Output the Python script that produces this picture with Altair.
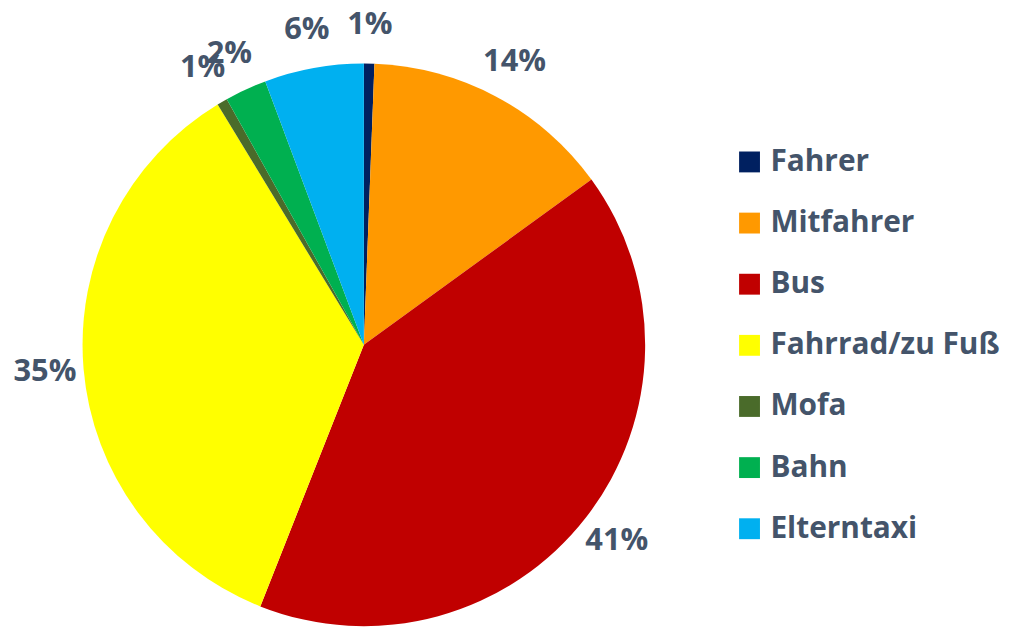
import altair as alt
import pandas as pd

categories = ["Fahrer", "Mitfahrer", "Bus", "Fahrrad/zu Fuß", "Mofa", "Bahn", "Elterntaxi"]
shares = [0.6, 14.4, 41.0, 35.3, 0.6, 2.4, 5.7]
colors = ["#002060", "#FF9900", "#C00000", "#FFFF00", "#4A6B2A", "#00B050", "#00B0F0"]

df = pd.DataFrame({
    "Kategorie": categories,
    "Anteil": [s / 100 for s in shares],
    "idx": list(range(len(categories))),
})

TEXT = "#44546A"
FONT = "Open Sans"

base = alt.Chart(df).encode(
    theta=alt.Theta("Anteil:Q", stack=True),
    order=alt.Order("idx:Q"),
    x=alt.value(358),
    y=alt.value(337),
)

arcs = base.mark_arc(outerRadius=283).encode(
    color=alt.Color(
        "Kategorie:N",
        scale=alt.Scale(domain=categories, range=colors),
        sort=categories,
        legend=alt.Legend(
            title=None,
            orient="none",
            legendX=731,
            legendY=138,
            symbolType="square",
            symbolSize=441,
            symbolStrokeWidth=0,
            labelFont=FONT,
            labelFontSize=30,
            labelFontWeight="bold",
            labelColor=TEXT,
            labelOffset=6,
            rowPadding=31.5,
            labelLimit=400,
        ),
    )
)

labels = base.mark_text(
    radius=322, font=FONT, fontSize=31, fontWeight="bold", color=TEXT
).encode(text=alt.Text("Anteil:Q", format=".0%"))

chart = (
    alt.layer(arcs, labels)
    .properties(width=1000, height=620, padding=0, autosize=alt.AutoSizeParams(type="none"))
    .configure_view(stroke=None)
)

chart.save("out.html", embed_options={"renderer": "svg", "actions": False})
